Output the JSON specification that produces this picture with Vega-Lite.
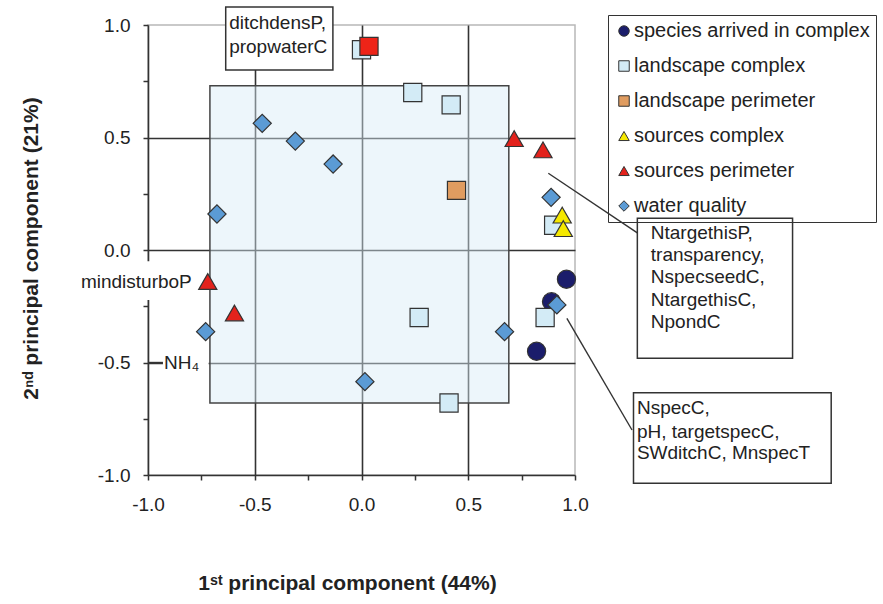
{
  "$schema": "https://vega.github.io/schema/vega-lite/v6.json",
  "width": 427,
  "height": 450,
  "autosize": "none",
  "padding": {"left": 148, "top": 25, "right": 308, "bottom": 129},
  "background": "white",
  "config": {
    "view": {"stroke": "#b8b8b8", "strokeWidth": 1.5},
    "font": "Liberation Sans"
  },
  "datasets": {
    "pts": [
      {"x": 0.96, "y": -0.13, "group": "species arrived in complex"},
      {"x": 0.89, "y": -0.23, "group": "species arrived in complex"},
      {"x": 0.82, "y": -0.45, "group": "species arrived in complex"},
      {"x": 0.0, "y": 0.89, "group": "landscape complex"},
      {"x": 0.24, "y": 0.70, "group": "landscape complex"},
      {"x": 0.42, "y": 0.645, "group": "landscape complex"},
      {"x": 0.90, "y": 0.11, "group": "landscape complex"},
      {"x": 0.27, "y": -0.30, "group": "landscape complex"},
      {"x": 0.86, "y": -0.30, "group": "landscape complex"},
      {"x": 0.41, "y": -0.68, "group": "landscape complex"},
      {"x": -0.465, "y": 0.563, "group": "water quality"},
      {"x": -0.31, "y": 0.484, "group": "water quality"},
      {"x": -0.133, "y": 0.382, "group": "water quality"},
      {"x": -0.677, "y": 0.16, "group": "water quality"},
      {"x": 0.888, "y": 0.234, "group": "water quality"},
      {"x": -0.73, "y": -0.363, "group": "water quality"},
      {"x": 0.67, "y": -0.363, "group": "water quality"},
      {"x": 0.016, "y": -0.585, "group": "water quality"},
      {"x": 0.915, "y": -0.244, "group": "water quality"},
      {"x": 0.445, "y": 0.265, "group": "landscape perimeter"},
      {"x": 0.035, "y": 0.905, "group": "ditchdensP/propwaterC"},
      {"x": 0.94, "y": 0.155, "group": "sources complex"},
      {"x": 0.945, "y": 0.095, "group": "sources complex"},
      {"x": 0.715, "y": 0.495, "group": "sources perimeter"},
      {"x": 0.85, "y": 0.445, "group": "sources perimeter"},
      {"x": -0.72, "y": -0.14, "group": "sources perimeter"},
      {"x": -0.595, "y": -0.28, "group": "sources perimeter"}
    ],
    "region": [{"x": -0.71, "x2": 0.69, "y": -0.68, "y2": 0.73}],
    "masks": [
      {"x": -1.34, "x2": -0.78, "y": -0.05, "y2": -0.222},
      {"x": -0.93, "x2": -0.716, "y": -0.52, "y2": -0.48}
    ],
    "boxes": [
      {"x": -0.636, "x2": -0.134, "y": 0.8, "y2": 1.08},
      {"x": 1.292, "x2": 2.019, "y": -0.481, "y2": 0.141},
      {"x": 1.274, "x2": 2.2, "y": -1.037, "y2": -0.634}
    ],
    "leaders": [
      {"x": 0.875, "y": 0.341, "x2": 1.292, "y2": 0.076},
      {"x": 0.962, "y": -0.304, "x2": 1.267, "y2": -0.80},
      {"x": -1.0, "y": -0.5, "x2": -0.93, "y2": -0.5}
    ],
    "notes": [
      {"x": -0.62, "y": 1.009, "t": "ditchdensP,"},
      {"x": -0.62, "y": 0.902, "t": "propwaterC"},
      {"x": 1.355, "y": 0.076, "t": "NtargethisP,"},
      {"x": 1.355, "y": -0.022, "t": "transparency,"},
      {"x": 1.355, "y": -0.12, "t": "NspecseedC,"},
      {"x": 1.355, "y": -0.222, "t": "NtargethisC,"},
      {"x": 1.355, "y": -0.32, "t": "NpondC"},
      {"x": 1.29, "y": -0.702, "t": "NspecC,"},
      {"x": 1.29, "y": -0.807, "t": "pH, targetspecC,"},
      {"x": 1.29, "y": -0.904, "t": "SWditchC, MnspecT"},
      {"x": -0.925, "y": -0.5, "t": "NH₄"}
    ],
    "rnotes": [
      {"x": -0.795, "y": -0.142, "t": "mindisturboP"}
    ]
  },
  "layer": [
    {
      "data": {"name": "region"},
      "mark": {"type": "rect", "fill": "#d6ebf7", "fillOpacity": 0.45, "stroke": "#444", "strokeWidth": 1.5},
      "encoding": {
        "x": {
          "field": "x", "type": "quantitative",
          "scale": {"domain": [-1, 1], "nice": false, "zero": false},
          "axis": {
            "values": [-1, -0.75, -0.5, -0.25, 0, 0.25, 0.5, 0.75, 1],
            "labelExpr": "abs(datum.value*2 - round(datum.value*2)) < 0.001 ? (datum.value < 0 ? '-' : '') + format(abs(datum.value), '.1f') : ''",
            "labelFlush": false, "labelOverlap": false,
            "labelFont": "Liberation Sans", "labelFontSize": 19, "labelColor": "#222", "labelPadding": 15,
            "grid": true, "gridColor": "#333", "gridWidth": 1.6,
            "gridOpacity": {"condition": {"test": "abs(datum.value) < 0.6 && abs(datum.value*2 - round(datum.value*2)) < 0.001", "value": 1}, "value": 0},
            "domainColor": "#333", "domainWidth": 1.6,
            "tickColor": "#333", "tickWidth": 1.5, "tickSize": 5,
            "title": "1ˢᵗ principal component (44%)",
            "titleFont": "Liberation Sans", "titleFontSize": 21, "titleFontWeight": "bold", "titleColor": "#222",
            "titleX": 199, "titleY": 108, "titleAlign": "center", "titleBaseline": "middle"
          }
        },
        "x2": {"field": "x2"},
        "y": {
          "field": "y", "type": "quantitative",
          "scale": {"domain": [-1, 1], "nice": false, "zero": false},
          "axis": {
            "values": [-1, -0.75, -0.5, -0.25, 0, 0.25, 0.5, 0.75, 1],
            "labelExpr": "abs(datum.value*2 - round(datum.value*2)) < 0.001 ? (datum.value < 0 ? '-' : '') + format(abs(datum.value), '.1f') : ''",
            "labelFlush": false, "labelOverlap": false,
            "labelFont": "Liberation Sans", "labelFontSize": 19, "labelColor": "#222", "labelPadding": 13,
            "grid": true, "gridColor": "#333", "gridWidth": 1.6,
            "gridOpacity": {"condition": {"test": "abs(datum.value) < 0.6 && abs(datum.value*2 - round(datum.value*2)) < 0.001", "value": 1}, "value": 0},
            "domainColor": "#333", "domainWidth": 1.6,
            "tickColor": "#333", "tickWidth": 1.5, "tickSize": 5,
            "title": "2ⁿᵈ principal component (21%)",
            "titleFont": "Liberation Sans", "titleFontSize": 21, "titleFontWeight": "bold", "titleColor": "#222",
            "titleX": -117, "titleY": 223, "titleAngle": -90, "titleAlign": "center", "titleBaseline": "middle"
          }
        },
        "y2": {"field": "y2"}
      }
    },
    {
      "data": {"name": "masks"},
      "mark": {"type": "rect", "fill": "white", "strokeWidth": 0},
      "encoding": {
        "x": {"field": "x", "type": "quantitative"},
        "x2": {"field": "x2"},
        "y": {"field": "y", "type": "quantitative"},
        "y2": {"field": "y2"}
      }
    },
    {
      "data": {"name": "boxes"},
      "mark": {"type": "rect", "fill": "white", "stroke": "#333", "strokeWidth": 1.5},
      "encoding": {
        "x": {"field": "x", "type": "quantitative"},
        "x2": {"field": "x2"},
        "y": {"field": "y", "type": "quantitative"},
        "y2": {"field": "y2"}
      }
    },
    {
      "data": {"name": "leaders"},
      "mark": {"type": "rule", "color": "#333", "strokeWidth": 1.4},
      "encoding": {
        "x": {"field": "x", "type": "quantitative"},
        "x2": {"field": "x2"},
        "y": {"field": "y", "type": "quantitative"},
        "y2": {"field": "y2"}
      }
    },
    {
      "data": {"name": "pts"},
      "mark": {"type": "point", "filled": true, "opacity": 1, "stroke": "#333", "strokeWidth": 1.2, "size": 330},
      "encoding": {
        "x": {"field": "x", "type": "quantitative"},
        "y": {"field": "y", "type": "quantitative"},
        "color": {
          "field": "group", "type": "nominal",
          "scale": {
            "domain": ["species arrived in complex", "landscape complex", "landscape perimeter", "sources complex", "sources perimeter", "water quality", "ditchdensP/propwaterC"],
            "range": ["#1b1d6b", "#d3ebf6", "#e09c60", "#f5e800", "#e3221c", "#5b9bd5", "#ee2418"]
          },
          "legend": {
            "values": ["species arrived in complex", "landscape complex", "landscape perimeter", "sources complex", "sources perimeter", "water quality"],
            "orient": "none", "legendX": 460, "legendY": -10, "title": null,
            "labelFont": "Liberation Sans", "labelFontSize": 20, "labelColor": "#222", "labelLimit": 400, "labelOffset": 0,
            "symbolSize": 110, "symbolStrokeColor": "#333", "symbolStrokeWidth": 1,
            "rowPadding": 15, "padding": 6, "strokeColor": "#333"
          }
        },
        "shape": {
          "field": "group", "type": "nominal",
          "scale": {
            "domain": ["species arrived in complex", "landscape complex", "landscape perimeter", "sources complex", "sources perimeter", "water quality", "ditchdensP/propwaterC"],
            "range": ["circle", "square", "square", "triangle-up", "triangle-up", "diamond", "square"]
          },
          "legend": {
            "values": ["species arrived in complex", "landscape complex", "landscape perimeter", "sources complex", "sources perimeter", "water quality"],
            "orient": "none", "legendX": 460, "legendY": -10, "title": null,
            "labelFont": "Liberation Sans", "labelFontSize": 20, "labelColor": "#222", "labelLimit": 400, "labelOffset": 0,
            "symbolSize": 110, "symbolStrokeColor": "#333", "symbolStrokeWidth": 1,
            "rowPadding": 15, "padding": 6, "strokeColor": "#333"
          }
        }
      }
    },
    {
      "data": {"name": "notes"},
      "mark": {"type": "text", "align": "left", "baseline": "middle", "font": "Liberation Sans", "fontSize": 19, "color": "#222"},
      "encoding": {
        "x": {"field": "x", "type": "quantitative"},
        "y": {"field": "y", "type": "quantitative"},
        "text": {"field": "t"}
      }
    },
    {
      "data": {"name": "rnotes"},
      "mark": {"type": "text", "align": "right", "baseline": "middle", "font": "Liberation Sans", "fontSize": 19, "color": "#222"},
      "encoding": {
        "x": {"field": "x", "type": "quantitative"},
        "y": {"field": "y", "type": "quantitative"},
        "text": {"field": "t"}
      }
    }
  ]
}
